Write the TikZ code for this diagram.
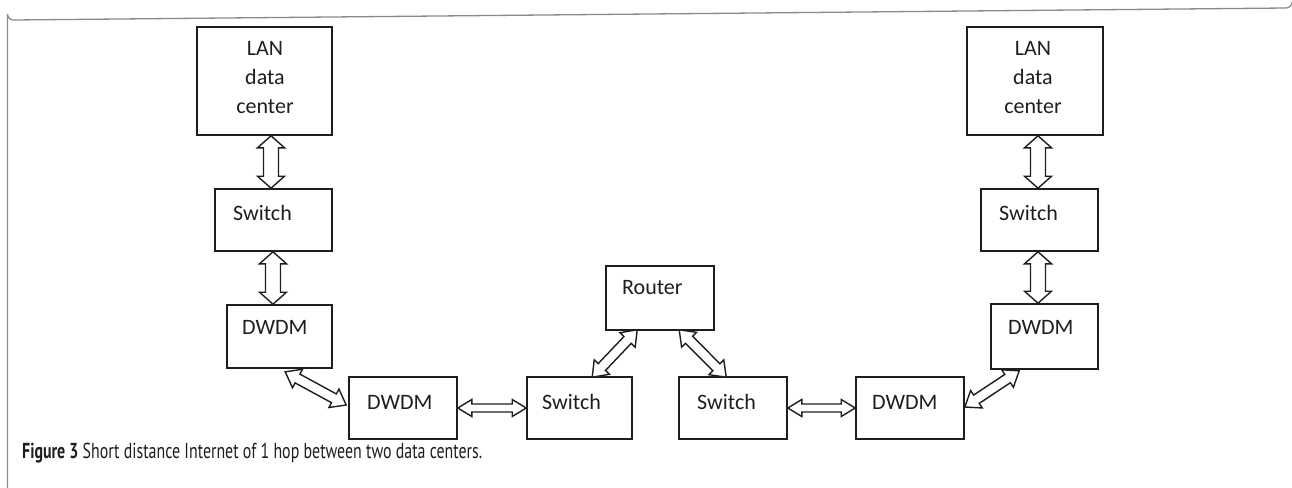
\documentclass[tikz,border=0pt]{standalone}
\usepackage{fontspec}
\setmainfont{Carlito}
\newfontfamily\capfont{PT Sans}
\usetikzlibrary{calc}
\definecolor{framegray}{HTML}{8A8A8A}
\definecolor{ink}{HTML}{1E1E1E}
\tikzset{
  box/.style={draw=ink, line width=1.6pt, rectangle, inner sep=0pt},
  lbl/.style={anchor=west, inner sep=0pt, text=ink, font=\fontsize{22}{26}\selectfont},
  lanlbl/.style={align=center, inner sep=0pt, text=ink, font=\fontsize{22}{29}\selectfont},
  arrowline/.style={draw=ink, line width=1.4pt, fill=white, line join=miter},
}
% #1 from, #2 to, #3 half shaft, #4 half head, #5 head length
\newcommand{\dblarrow}[5]{%
  \draw[arrowline] (#1)
   -- ($(#1)!#5!(#2)!#4!90:(#2)$)
   -- ($(#1)!#5!(#2)!#3!90:(#2)$)
   -- ($(#2)!#5!(#1)!#3!-90:(#1)$)
   -- ($(#2)!#5!(#1)!#4!-90:(#1)$)
   -- (#2)
   -- ($(#2)!#5!(#1)!#4!90:(#1)$)
   -- ($(#2)!#5!(#1)!#3!90:(#1)$)
   -- ($(#1)!#5!(#2)!#3!-90:(#2)$)
   -- ($(#1)!#5!(#2)!#4!-90:(#2)$)
   -- cycle;}
\begin{document}
\begin{tikzpicture}[x=1pt, y=-1pt]
\useasboundingbox (0,0) rectangle (1292,487);
% frame
\draw[framegray, line width=1.3pt] (7.5,490) -- (7.5,14) arc[start angle=180, end angle=90, radius=6] -- (1286,8) arc[start angle=90, end angle=0, radius=6];

% boxes
\node[box, minimum width=135pt, minimum height=108pt] (lanL) at (264.5,81) {};
\node[box, minimum width=117pt, minimum height=62pt] (swL) at (273.5,220) {};
\node[box, minimum width=105pt, minimum height=63pt] (dwL) at (279.5,336.5) {};
\node[box, minimum width=108pt, minimum height=62pt] (dwM) at (403,408) {};
\node[box, minimum width=105pt, minimum height=62pt] (swM) at (579.5,408) {};
\node[box, minimum width=108pt, minimum height=64pt] (rt) at (660,298) {};
\node[box, minimum width=108pt, minimum height=62pt] (swN) at (733,408) {};
\node[box, minimum width=108pt, minimum height=62pt] (dwN) at (910,408) {};
\node[box, minimum width=107pt, minimum height=65pt] (dwR) at (1044.5,336.5) {};
\node[box, minimum width=117pt, minimum height=62pt] (swR) at (1039.5,220) {};
\node[box, minimum width=136pt, minimum height=108pt] (lanR) at (1035,81) {};

% labels
\node[lanlbl] (tlanL) at (265,78) {LAN\\data\\center};
\node[lanlbl] (tlanR) at (1033,78) {LAN\\data\\center};
\node[lbl] (tswL) at (233,213) {Switch};
\node[lbl] (tdwL) at (242,327) {DWDM};
\node[lbl] (tdwM) at (367,402) {DWDM};
\node[lbl] (tswM) at (542,402) {Switch};
\node[lbl] (trt) at (622,288) {Router};
\node[lbl] (tswN) at (697,402) {Switch};
\node[lbl] (tdwN) at (872,402) {DWDM};
\node[lbl] (tdwR) at (1008,327) {DWDM};
\node[lbl] (tswR) at (999,213) {Switch};

% connector end points
\coordinate (a1) at (lanL.south -| 271,0);
\coordinate (a2) at (swL.north -| 271,0);
\coordinate (b1) at (swL.south -| 273,0);
\coordinate (b2) at (dwL.north -| 273,0);
\coordinate (c1) at ($(dwL.south west)+(59,3)$);
\coordinate (c2) at ($(dwM.west)+(-2,-3)$);
\coordinate (d1) at (dwM.east);
\coordinate (d2) at (swM.west);
\coordinate (e1) at ($(swM.north west)+(66,1)$);
\coordinate (e2) at ($(rt.south west)+(32,-1)$);
\coordinate (f1) at ($(rt.south west)+(74,-1)$);
\coordinate (f2) at ($(swN.north west)+(48,1)$);
\coordinate (g1) at (swN.east);
\coordinate (g2) at (dwN.west);
\coordinate (h1) at ($(dwN.east)+(0,-1)$);
\coordinate (h2) at ($(dwR.south west)+(29,1)$);
\coordinate (i1) at (lanR.south -| 1038,0);
\coordinate (i2) at (swR.north -| 1038,0);
\coordinate (j1) at (swR.south -| 1038,0);
\coordinate (j2) at (dwR.north -| 1038,0);

% connectors
\dblarrow{a1}{a2}{7.5pt}{13.5pt}{12pt}
\dblarrow{b1}{b2}{7.5pt}{13.5pt}{12pt}
\dblarrow{i1}{i2}{7.5pt}{13.5pt}{12pt}
\dblarrow{j1}{j2}{7.5pt}{13.5pt}{12pt}
\dblarrow{c1}{c2}{5pt}{10.5pt}{14pt}
\dblarrow{d1}{d2}{4pt}{8.5pt}{14pt}
\dblarrow{e1}{e2}{5pt}{10.5pt}{14pt}
\dblarrow{f1}{f2}{5pt}{10.5pt}{14pt}
\dblarrow{g1}{g2}{4pt}{8.5pt}{14pt}
\dblarrow{h1}{h2}{5pt}{10.5pt}{14pt}

% caption
\node[anchor=west, inner sep=0pt, text=ink] (cap) at (22,453) {\resizebox*{460pt}{20pt}{\capfont\fontsize{17}{20}\selectfont\textbf{Figure 3} Short distance Internet of 1 hop between two data centers.}};
\end{tikzpicture}
\end{document}
